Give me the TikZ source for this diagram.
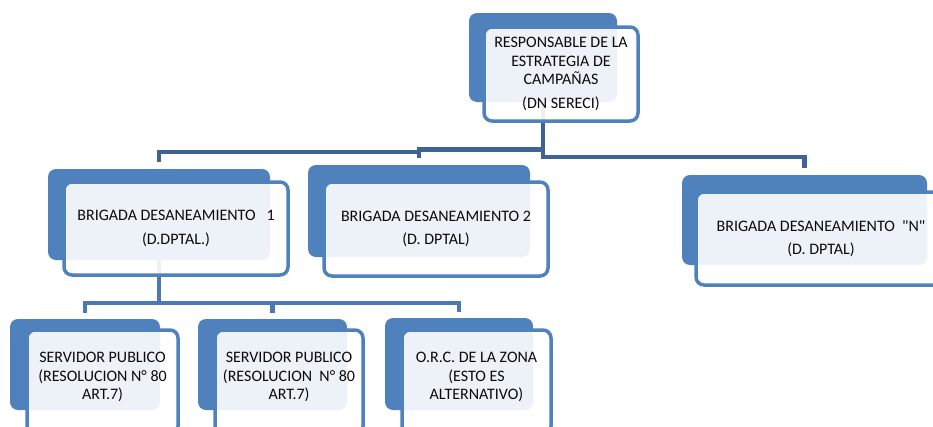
\documentclass[tikz,border=0pt]{standalone}
\usepackage{fontspec}
\setmainfont{Carlito}[Ligatures=TeXOff]
\definecolor{boxblue}{HTML}{4F81BD}
\definecolor{linedark}{HTML}{3E6496}
\definecolor{linelight}{HTML}{4A79B5}
\definecolor{txt}{HTML}{0A0A0A}
\begin{document}
\begin{tikzpicture}[x=1pt,y=-1pt,
  backbox/.style={rectangle,rounded corners=8pt,fill=boxblue,inner sep=0pt},
  frontbox/.style={rectangle,rounded corners=8pt,draw=boxblue,line width=3.5pt,
     fill=white,fill opacity=0.9,text opacity=1,inner sep=0pt,
     align=center,text=txt,font=\fontsize{16}{18.5}\selectfont},
  conn/.style={draw=linedark,line width=4.5pt,shorten >=7pt},
  connlow/.style={draw=linelight,line width=4.5pt,shorten >=6pt}]
\useasboundingbox (0,0) rectangle (933,426);
\clip (0,0) rectangle (933,426);
% back boxes
\node[backbox,minimum width=148pt,minimum height=89pt] (topb) at (543,57.5) {};
\node[backbox,minimum width=222pt,minimum height=91pt] (b1b) at (159,214.5) {};
\node[backbox,minimum width=222pt,minimum height=92pt] (b2b) at (419,211) {};
\node[backbox,minimum width=245pt,minimum height=90pt] (b3b) at (804.5,220) {};
\node[backbox,minimum width=150pt,minimum height=91pt] (s1b) at (85,364.5) {};
\node[backbox,minimum width=149pt,minimum height=91pt] (s2b) at (272.5,364.5) {};
\node[backbox,minimum width=148pt,minimum height=92pt] (ob) at (459,364) {};
% connectors
\draw[conn] (topb.south) -- (topb.south |- 0,157) -| (b3b.north);
\draw[conn] (topb.south |- 0,149.5) -| (b2b.north);
\draw[conn] (b2b.north |- 0,152) -| (b1b.north);
\draw[connlow] (b1b.south) -- (b1b.south |- 0,303) -| (s1b.north);
\draw[connlow] (b1b.south |- 0,303) -| (s2b.north);
\draw[connlow] (b1b.south |- 0,303) -| (ob.north);
% front boxes
\node[frontbox,minimum width=154pt,minimum height=94pt] (topf) at (561,74)
  {RESPONSABLE DE LA\\ESTRATEGIA DE\\CAMPAÑAS\\[5pt](DN SERECI)};
\node[frontbox,minimum width=224pt,minimum height=93pt] (b1f) at (176,228.5)
  {BRIGADA DESANEAMIENTO\ \ \ 1\\[5pt](D.DPTAL.)};
\node[frontbox,minimum width=224pt,minimum height=94pt] (b2f) at (436,229)
  {BRIGADA DESANEAMIENTO 2\\[5pt](D. DPTAL)};
\node[frontbox,minimum width=250pt,minimum height=93pt] (b3f) at (821,238.5)
  {BRIGADA DESANEAMIENTO\ \ "N"\\[5pt](D. DPTAL)};
\node[frontbox,minimum width=151pt,minimum height=104pt] (s1f) at (102.5,382)
  {SERVIDOR PUBLICO\\(RESOLUCION N° 80\\ART.7)\\[-7pt]\mbox{}};
\node[frontbox,minimum width=148pt,minimum height=104pt] (s2f) at (289,382)
  {SERVIDOR PUBLICO\\(RESOLUCION\ \ N° 80\\ART.7)\\[-7pt]\mbox{}};
\node[frontbox,minimum width=149pt,minimum height=104pt] (of) at (476.5,382)
  {O.R.C. DE LA ZONA\\(ESTO ES\\ALTERNATIVO)\\[-7pt]\mbox{}};
\end{tikzpicture}
\end{document}
